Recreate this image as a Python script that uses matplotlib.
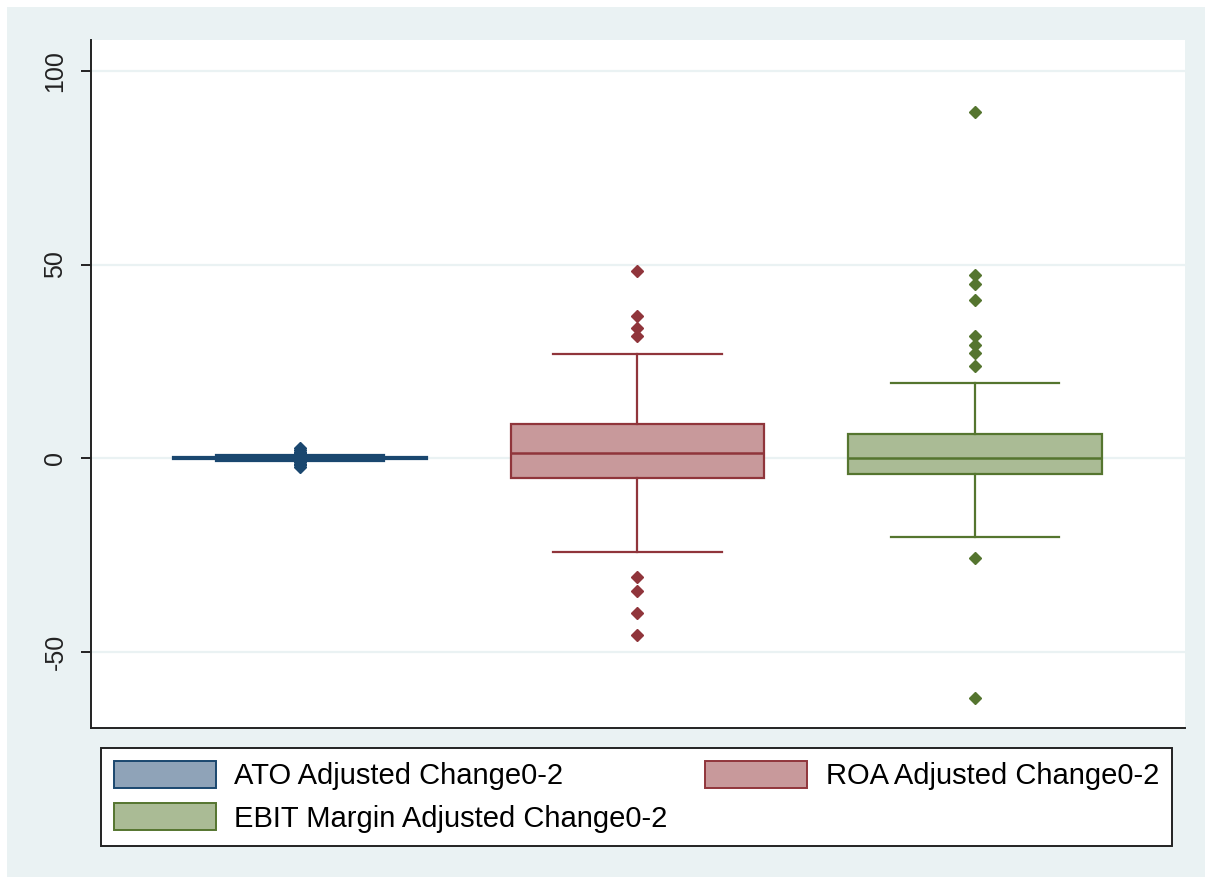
import matplotlib.pyplot as plt
from matplotlib.patches import Rectangle, Patch

plt.rcParams['font.family'] = ['Liberation Sans', 'DejaVu Sans']
plt.rcParams['axes.unicode_minus'] = False

labels = ['ATO Adjusted Change0-2', 'ROA Adjusted Change0-2', 'EBIT Margin Adjusted Change0-2']
whislo = [-0.8, -24.2, -20.3]
q1 = [-0.2, -5.2, -4.1]
med = [0.0, 1.2, 0.0]
q3 = [0.2, 8.9, 6.3]
whishi = [0.8, 26.8, 19.3]
fliers = [
    [-2.3, -1.8, -1.4, -1.1, 1.0, 1.3, 1.7, 2.1, 2.6],
    [-45.6, -39.9, -34.3, -30.6, 31.6, 33.5, 36.7, 48.4],
    [-62.0, -25.7, 23.7, 27.2, 29.3, 31.6, 40.9, 45.0, 47.2, 89.3],
]
edge = ['#1a476f', '#90353b', '#55752f']
fill = ['#8fa3b8', '#c8999b', '#aabb95']

stats = []
for i in range(3):
    stats.append(dict(whislo=whislo[i], q1=q1[i], med=med[i], q3=q3[i],
                      whishi=whishi[i], fliers=fliers[i], label=labels[i]))

fig = plt.figure(figsize=(12.12, 8.84), dpi=100, facecolor='white')
# light graph region behind everything
fig.patches.append(Rectangle((7 / 1212, 7 / 884), 1198 / 1212, 870 / 884,
                             transform=fig.transFigure, facecolor='#eaf2f3',
                             edgecolor='none', zorder=-10))

ax = fig.add_axes([91 / 1212, 1 - 728 / 884, 1094 / 1212, 688 / 884])
ax.set_facecolor('white')

for i in range(3):
    ax.bxp([stats[i]], positions=[i + 1], widths=0.75, capwidths=0.5,
           patch_artist=True, showfliers=True,
           boxprops=dict(facecolor=fill[i], edgecolor=edge[i], linewidth=1.6),
           medianprops=dict(color=edge[i], linewidth=1.8),
           whiskerprops=dict(color=edge[i], linewidth=1.6),
           capprops=dict(color=edge[i], linewidth=1.6),
           flierprops=dict(marker='D', markersize=6.5, markerfacecolor=edge[i],
                           markeredgecolor=edge[i], linestyle='none'))

ax.set_xlim(0.381, 3.622)
ax.set_ylim(-69.7, 108)
ax.set_yticks([-50, 0, 50, 100])
ax.set_xticks([])
ax.grid(axis='y', color='#eaf2f3', linewidth=1.6)
ax.set_axisbelow(True)
for s in ['top', 'right']:
    ax.spines[s].set_visible(False)
for s in ['left', 'bottom']:
    ax.spines[s].set_color('#222222')
    ax.spines[s].set_linewidth(1.4)
ax.tick_params(axis='y', direction='out', length=7, width=1.4, pad=10,
               labelsize=18, labelcolor='#222222', color='#222222')
for t in ax.get_yticklabels():
    t.set_rotation(90)
    t.set_va('center')

handles = [Patch(facecolor=fill[i], edgecolor=edge[i], linewidth=1.4) for i in range(3)]
# ncol fills column-wise, so order gives rows: ATO | ROA, then EBIT
order = [0, 2, 1]
leg = fig.legend([handles[i] for i in order], [labels[i] for i in order],
                 loc='lower left', bbox_to_anchor=(101 / 1212, 1 - 846 / 884, 1071 / 1212, 100 / 884),
                 mode='expand', ncol=2, fontsize=21, frameon=True, fancybox=False,
                 handlelength=3.5, handleheight=1.05, handletextpad=0.62,
                 labelspacing=0.45, borderpad=0.45, borderaxespad=0)
leg.get_frame().set_facecolor('white')
leg.get_frame().set_alpha(1)
leg.get_frame().set_edgecolor('#222222')
leg.get_frame().set_linewidth(1.4)

fig.savefig('out.png', dpi=100, facecolor=fig.get_facecolor())
